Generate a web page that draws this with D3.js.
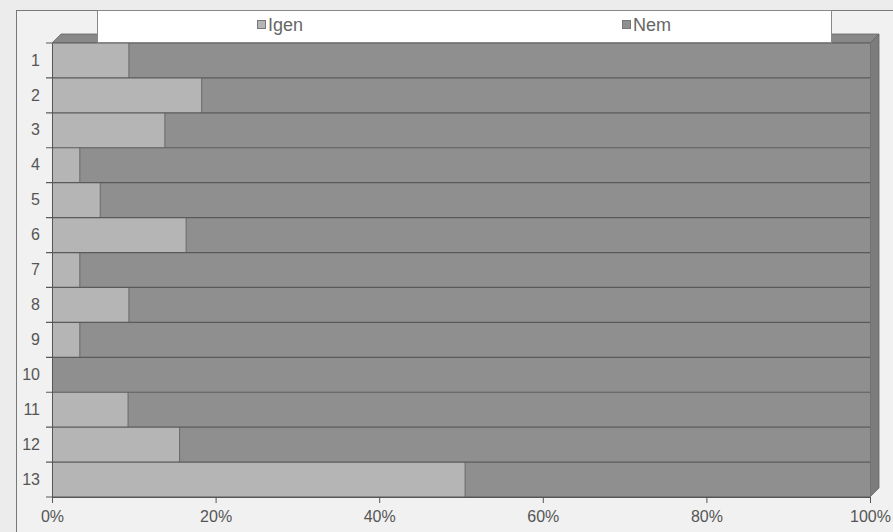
<!DOCTYPE html>
<html>
<head>
<meta charset="utf-8">
<script src="https://cdn.jsdelivr.net/npm/d3@7"></script>
<style>
body { margin:0; background:#ececec; }
text { font-family: "Liberation Sans", Arial, sans-serif; }
</style>
</head>
<body>
<div id="chart"></div>
<script>
// kategoriak es ertekek (szazalek)
var categories = ["1","2","3","4","5","6","7","8","9","10","11","12","13"];
var igen = [9.4, 18.3, 13.8, 3.4, 5.9, 16.4, 3.4, 9.4, 3.4, 0, 9.3, 15.6, 50.5];
var nem  = igen.map(function(v){ return 100 - v; });
var seriesNames = ["Igen", "Nem"];
var xTicks = [0, 20, 40, 60, 80, 100];

var W = 893, H = 532;
var margin = {top: 43, left: 52, right: 22, bottom: 35};
var depth = 9;

var svg = d3.select("#chart").append("svg")
    .attr("width", W).attr("height", H);

svg.append("rect").attr("width", W).attr("height", H).style("fill", "#ececec");

// keret
svg.append("rect")
  .attr("x", 16.5).attr("y", 10.5)
  .attr("width", W + 20).attr("height", H + 20)
  .style("fill", "#f1f1f1")
  .style("stroke", "#777");

var x = d3.scaleLinear().domain([0, 100]).range([margin.left, W - margin.right - 1]);
var y = d3.scaleBand().domain(categories).range([margin.top, H - margin.bottom]).padding(0);

var stack = categories.map(function(c, i){ return {cat: c, igen: igen[i], nem: nem[i]}; });

var colors = {Igen: "#b5b5b5", Nem: "#8f8f8f"};

// 3D: felso es jobb oldali lap
var x0 = x(0), x1 = x(100), yTop = y.range()[0], yBot = y.range()[1];
svg.append("path")
  .attr("d", "M" + x0 + "," + yTop + " L" + (x0 + depth) + "," + (yTop - depth) +
             " L" + (x1 + depth) + "," + (yTop - depth) + " L" + x1 + "," + yTop + "Z")
  .style("fill", "#888").style("stroke", "#666").style("stroke-width", 0.8);
svg.append("path")
  .attr("d", "M" + x1 + "," + yTop + " L" + (x1 + depth) + "," + (yTop - depth) +
             " L" + (x1 + depth) + "," + (yBot - depth) + " L" + x1 + "," + yBot + "Z")
  .style("fill", "#7c7c7c").style("stroke", "#666").style("stroke-width", 0.8);

var rows = svg.selectAll("g.row").data(stack).enter().append("g").attr("class", "row");

rows.append("rect")
  .attr("x", x(0))
  .attr("y", function(d){ return y(d.cat); })
  .attr("width", function(d){ return x(d.igen) - x(0); })
  .attr("height", y.bandwidth())
  .style("fill", colors.Igen);

rows.append("rect")
  .attr("x", function(d){ return x(d.igen); })
  .attr("y", function(d){ return y(d.cat); })
  .attr("width", function(d){ return x(100) - x(d.igen); })
  .attr("height", y.bandwidth())
  .style("fill", colors.Nem);

// hatarvonal a ket szin kozott
rows.filter(function(d){ return d.igen > 0; }).append("line")
  .attr("x1", function(d){ return x(d.igen); })
  .attr("x2", function(d){ return x(d.igen); })
  .attr("y1", function(d){ return y(d.cat); })
  .attr("y2", function(d){ return y(d.cat) + y.bandwidth(); })
  .style("stroke", "#666").style("stroke-width", 1);

// sorok kozotti vonalak
svg.selectAll("line.sep").data(categories.concat(["end"])).enter().append("line")
  .attr("class", "sep")
  .attr("x1", x(0) - 6).attr("x2", x(100))
  .attr("y1", function(d){ return d === "end" ? yBot : y(d); })
  .attr("y2", function(d){ return d === "end" ? yBot : y(d); })
  .style("stroke", "#5a5a5a").style("stroke-width", 1.2);

// tengelyek
var yAxis = d3.axisLeft(y).tickSize(0).tickPadding(12);
var gy = svg.append("g").attr("transform", "translate(" + x(0) + ",0)").call(yAxis);
gy.select(".domain").style("stroke", "#555");
gy.selectAll("text").style("font-size", "16px").style("fill", "#555")
  .style("font-family", "Liberation Sans, Arial, sans-serif");

var xAxis = d3.axisBottom(x).tickValues(xTicks).tickSize(6).tickPadding(8)
  .tickFormat(function(d){ return d + "%"; });
var gx = svg.append("g").attr("transform", "translate(0," + yBot + ")").call(xAxis);
gx.select(".domain").style("stroke", "#555");
gx.selectAll("line").style("stroke", "#555");
gx.selectAll("text").style("font-size", "16px").style("fill", "#555")
  .style("font-family", "Liberation Sans, Arial, sans-serif");

// jelmagyarazat
svg.append("rect")
  .attr("x", 97.5).attr("y", 10.5).attr("width", 734).attr("height", 32)
  .style("fill", "#fff").style("stroke", "#888");
var legX = [257, 622];
seriesNames.forEach(function(s, i){
  svg.append("rect")
    .attr("x", legX[i] + 0.5).attr("y", 20.5).attr("width", 8).attr("height", 8)
    .style("fill", colors[s]).style("stroke", "#777");
  svg.append("text")
    .attr("x", legX[i] + 11).attr("y", 31)
    .style("font-size", "18px").style("fill", "#666")
    .text(s);
});
</script>
</body>
</html>
